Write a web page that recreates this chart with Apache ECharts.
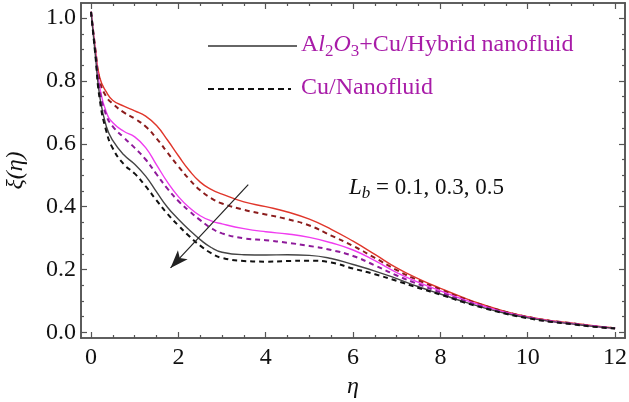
<!DOCTYPE html>
<html><head><meta charset="utf-8">
<script src="https://cdn.jsdelivr.net/npm/echarts@6/dist/echarts.min.js"></script>
<style>html,body{margin:0;padding:0;background:#fff}#c{width:629px;height:402px}</style>
</head><body><div id="c"></div>
<script>
// eta grid
const eta = [0, 0.1, 0.2, 0.35, 0.5, 0.75, 1, 1.25, 1.5, 1.75, 2, 2.25, 2.5, 2.75, 3, 3.5, 4, 4.5, 5, 5.5, 6, 6.5, 7, 7.5, 8, 8.5, 9, 9.5, 10, 10.5, 11, 11.5, 12];
// Lb = 0.1
const hybridLb01 = [1.02, 0.90, 0.81, 0.765, 0.738, 0.72, 0.705, 0.688, 0.658, 0.612, 0.562, 0.515, 0.478, 0.455, 0.44, 0.415, 0.40, 0.383, 0.36, 0.328, 0.29, 0.248, 0.205, 0.17, 0.14, 0.112, 0.087, 0.066, 0.05, 0.038, 0.03, 0.021, 0.014];
const cuLb01     = [1.02, 0.90, 0.80, 0.75, 0.727, 0.70, 0.68, 0.655, 0.617, 0.572, 0.528, 0.487, 0.452, 0.427, 0.41, 0.39, 0.375, 0.36, 0.34, 0.308, 0.275, 0.237, 0.198, 0.165, 0.137, 0.109, 0.085, 0.065, 0.049, 0.037, 0.029, 0.02, 0.013];
// Lb = 0.3
const hybridLb03 = [1.02, 0.89, 0.78, 0.70, 0.667, 0.64, 0.622, 0.588, 0.533, 0.478, 0.432, 0.397, 0.371, 0.355, 0.345, 0.33, 0.32, 0.313, 0.302, 0.285, 0.262, 0.228, 0.19, 0.159, 0.132, 0.106, 0.083, 0.063, 0.048, 0.036, 0.028, 0.02, 0.013];
const cuLb03     = [1.02, 0.89, 0.77, 0.69, 0.655, 0.62, 0.587, 0.55, 0.503, 0.457, 0.418, 0.386, 0.357, 0.332, 0.315, 0.299, 0.293, 0.285, 0.275, 0.262, 0.243, 0.213, 0.181, 0.153, 0.127, 0.102, 0.08, 0.061, 0.047, 0.035, 0.027, 0.019, 0.013];
// Lb = 0.5
const hybridLb05 = [1.02, 0.88, 0.75, 0.655, 0.61, 0.565, 0.535, 0.497, 0.447, 0.398, 0.36, 0.326, 0.295, 0.27, 0.255, 0.247, 0.246, 0.247, 0.245, 0.235, 0.216, 0.195, 0.171, 0.145, 0.122, 0.099, 0.078, 0.06, 0.046, 0.035, 0.027, 0.019, 0.013];
const cuLb05     = [1.02, 0.88, 0.74, 0.64, 0.585, 0.535, 0.505, 0.465, 0.42, 0.377, 0.34, 0.306, 0.276, 0.252, 0.237, 0.227, 0.225, 0.227, 0.228, 0.222, 0.203, 0.185, 0.164, 0.141, 0.12, 0.097, 0.077, 0.059, 0.045, 0.034, 0.026, 0.018, 0.012];

// tick labels
const xTicks = [0, 2, 4, 6, 8, 10, 12];
const yTicks = [0, 0.2, 0.4, 0.6, 0.8, 1.0];

const xMinor = [];
for (let v = 0; v <= 12.001; v += 0.5) if (Math.abs(v / 2 - Math.round(v / 2)) > 1e-6) xMinor.push(+v.toFixed(2));
const yMinor = [];
for (let v = 0; v <= 1.0001; v += 0.05) if (Math.abs(v / 0.2 - Math.round(v / 0.2)) > 1e-6) yMinor.push(+v.toFixed(3));

const FONT = "Liberation Serif";
const AX = '#555';
const X_MIN = -0.23, X_MAX = 12.227, Y_MIN = -0.018, Y_MAX = 1.048;

function xAxisDef(pos, ticks, len, labels) {
  return {
    type: 'value', position: pos, min: X_MIN, max: X_MAX, gridIndex: 0,
    axisLine: { show: true, onZero: false, lineStyle: { color: AX, width: 1.6 } },
    axisTick: { show: true, inside: true, length: len, customValues: ticks, lineStyle: { color: AX, width: 1.2 } },
    axisLabel: labels ? { show: true, customValues: ticks, margin: 8, fontFamily: FONT, fontSize: 24, color: '#111' } : { show: false },
    splitLine: { show: false }
  };
}
function yAxisDef(pos, ticks, len, labels) {
  return {
    type: 'value', position: pos, min: Y_MIN, max: Y_MAX, gridIndex: 0,
    axisLine: { show: true, onZero: false, lineStyle: { color: AX, width: 1.6 } },
    axisTick: { show: true, inside: true, length: len, customValues: ticks, lineStyle: { color: AX, width: 1.2 } },
    axisLabel: labels ? { show: true, customValues: ticks, margin: 5, fontFamily: FONT, fontSize: 24, color: '#111', formatter: v => Number(v).toFixed(1) } : { show: false },
    splitLine: { show: false }
  };
}

const xAxes = [xAxisDef('bottom', xTicks, 6, true), xAxisDef('bottom', xMinor, 3, false), xAxisDef('top', xTicks, 6, false), xAxisDef('top', xMinor, 3, false)];
xAxes[0].name = 'η';
xAxes[0].nameLocation = 'middle';
xAxes[0].nameGap = 34;
xAxes[0].nameTextStyle = { fontFamily: FONT, fontSize: 24, fontStyle: 'italic', color: '#111' };
const yAxes = [yAxisDef('left', yTicks, 6, true), yAxisDef('left', yMinor, 3, false), yAxisDef('right', yTicks, 6, false), yAxisDef('right', yMinor, 3, false)];
yAxes[0].name = 'ξ(η)';
yAxes[0].nameLocation = 'middle';
yAxes[0].nameGap = 53;
yAxes[0].nameRotate = 90;
yAxes[0].nameTextStyle = { fontFamily: FONT, fontSize: 24, fontStyle: 'italic', color: '#111' };

const pairs = arr => eta.map((x, i) => [x, arr[i]]);
const defs = [
  { name: 'Hybrid Lb=0.1', data: hybridLb01, color: '#E0362B', dash: false },
  { name: 'Cu Lb=0.1', data: cuLb01, color: '#8B1C1C', dash: true },
  { name: 'Hybrid Lb=0.3', data: hybridLb03, color: '#F03CF0', dash: false },
  { name: 'Cu Lb=0.3', data: cuLb03, color: '#8E1A9A', dash: true },
  { name: 'Hybrid Lb=0.5', data: hybridLb05, color: '#444444', dash: false },
  { name: 'Cu Lb=0.5', data: cuLb05, color: '#111111', dash: true }
];
const series = defs.map(d => ({
  type: 'line', name: d.name, data: pairs(d.data), xAxisIndex: 0, yAxisIndex: 0,
  smooth: 0.5, showSymbol: false, symbol: 'none', animation: false,
  lineStyle: { color: d.color, width: d.dash ? 2 : 1.4, type: d.dash ? [5, 4] : 'solid' }
}));
series[0].markLine = {
  silent: true, animation: false, symbol: ['none', 'arrow'], symbolSize: [10, 18],
  label: { show: false },
  lineStyle: { color: '#222', width: 1.2, type: 'solid' },
  data: [[{ coord: [3.6, 0.47] }, { coord: [1.82, 0.205] }]]
};

const magenta = '#A81CA8';
const graphic = [
  { type: 'line', shape: { x1: 208, y1: 46, x2: 297, y2: 46 }, style: { stroke: '#333', lineWidth: 1.4 } },
  { type: 'line', shape: { x1: 208, y1: 89, x2: 291, y2: 89 }, style: { stroke: '#111', lineWidth: 2, lineDash: [6, 4] } },
  { type: 'text', x: 301, y: 45, style: {
      text: '{n|A}{i|l}{s|2}{i|O}{s|3}{n|+Cu/Hybrid nanofluid}', verticalAlign: 'middle', fill: magenta,
      rich: {
        n: { fontFamily: FONT, fontSize: 24, fill: magenta, lineHeight: 30, verticalAlign: 'middle' },
        i: { fontFamily: FONT, fontSize: 24, fontStyle: 'italic', fill: magenta, lineHeight: 30, verticalAlign: 'middle' },
        s: { fontFamily: FONT, fontSize: 17, fill: magenta, lineHeight: 17, verticalAlign: 'bottom' }
      } } },
  { type: 'text', x: 301, y: 88, style: { text: 'Cu/Nanofluid', font: '24px ' + FONT, fill: magenta, verticalAlign: 'middle' } },
  { type: 'text', x: 349, y: 188, style: {
      text: '{i|L}{s|b}{n| = 0.1, 0.3, 0.5}', verticalAlign: 'middle', fill: '#111',
      rich: {
        n: { fontFamily: FONT, fontSize: 23, fill: '#111', lineHeight: 28, verticalAlign: 'middle' },
        i: { fontFamily: FONT, fontSize: 23, fontStyle: 'italic', fill: '#111', lineHeight: 28, verticalAlign: 'middle' },
        s: { fontFamily: FONT, fontSize: 17, fontStyle: 'italic', fill: '#111', lineHeight: 17, verticalAlign: 'bottom' }
      } } }
];

const chart = echarts.init(document.getElementById('c'), null, { renderer: 'canvas' });
chart.setOption({
  backgroundColor: '#fff',
  animation: false,
  textStyle: { fontFamily: FONT, fontSize: 24 },
  grid: { left: 81, right: 4, top: 3, bottom: 64, containLabel: false, outerBoundsMode: 'none' },
  xAxis: xAxes,
  yAxis: yAxes,
  series: series,
  graphic: graphic
});
</script>
</body></html>
